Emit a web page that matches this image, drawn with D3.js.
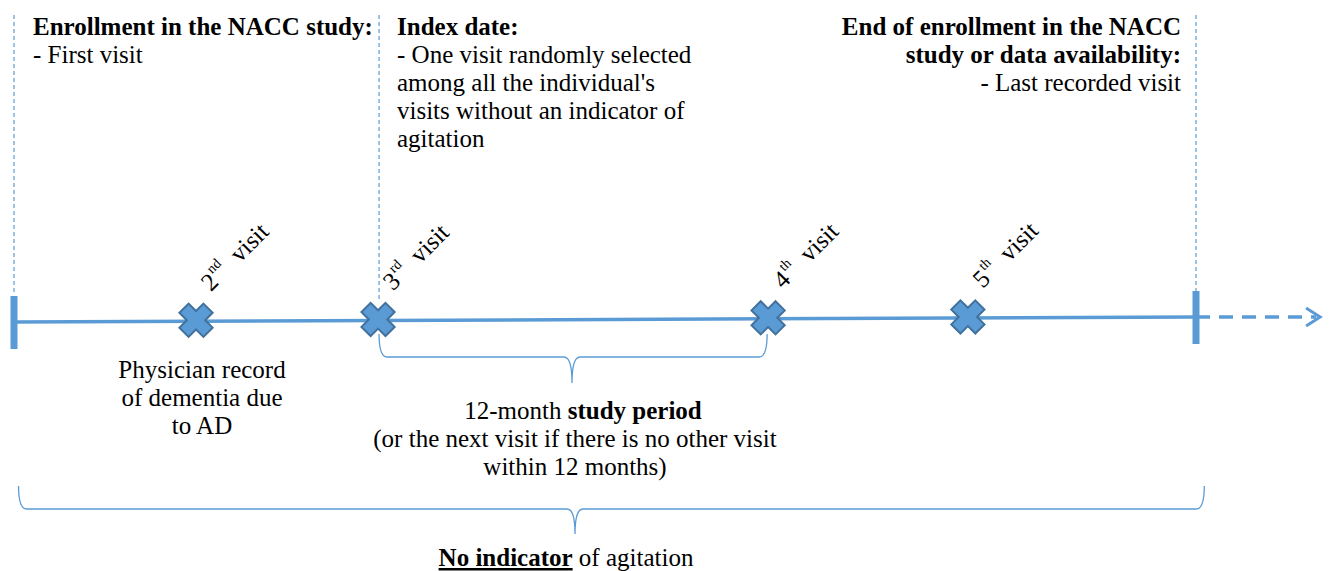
<!DOCTYPE html>
<html><head><meta charset="utf-8">
<script src="https://cdn.jsdelivr.net/npm/d3@7"></script>
<style>
html,body{margin:0;padding:0;background:#fff;}
svg{display:block;}
svg text{font-family:"Liberation Serif","Times New Roman",serif;}
</style></head>
<body>
<svg id="c" width="1340" height="571"></svg>
<script>
// ---- data ----
const visitNums   = ["2", "3", "4", "5"];
const visitSups   = ["nd", "rd", "th", "th"];
const visitTimes  = [15.4, 30.8, 63.8, 80.7];   // position on timeline (arbitrary time units)
const timelineStart = 0, timelineEnd = 100, arrowEnd = 110.5;
const studyPeriod = [30.8, 63.8];
const overall     = [0.3, 100.7];
const markerLines = [0, 30.8, 100];

const topLeftLines  = [{t:"Enrollment in the NACC study:", b:true}, {t:"- First visit", b:false}];
const topMidLines   = [{t:"Index date:", b:true}, {t:"- One visit randomly selected", b:false},
                       {t:"among all the individual's", b:false}, {t:"visits without an indicator of", b:false},
                       {t:"agitation", b:false}];
const topRightLines = [{t:"End of enrollment in the NACC", b:true}, {t:"study or data availability:", b:true},
                       {t:"- Last recorded visit", b:false}];
const physicianLines = ["Physician record", "of dementia due", "to AD"];
const periodLines = ["(or the next visit if there is no other visit", "within 12 months)"];

// ---- drawing ----
const svg = d3.select("#c");
const blue = "#5b9bd5", dark = "#41719c";
const x = d3.scaleLinear().domain([timelineStart, timelineEnd]).range([14, 1196]);
const yLine = d3.scaleLinear().domain([timelineStart, timelineEnd]).range([322, 317]);
const FS = 25, LH = 28;

// dashed vertical guides
svg.selectAll("line.guide").data(markerLines).join("line")
  .attr("x1", d => x(d) + (d === 30.8 ? 1 : 0)).attr("x2", d => x(d) + (d === 30.8 ? 1 : 0))
  .attr("y1", 15).attr("y2", d => d === 30.8 ? 302 : 294)
  .attr("stroke", blue).attr("stroke-width", 1.2).attr("stroke-dasharray", "4,3");

// main line
svg.append("line").attr("x1", x(timelineStart)).attr("y1", yLine(timelineStart))
  .attr("x2", x(timelineEnd)).attr("y2", yLine(timelineEnd))
  .attr("stroke", blue).attr("stroke-width", 3.5);

// dashed continuation + arrow
svg.append("line").attr("x1", x(timelineEnd)).attr("y1", yLine(timelineEnd))
  .attr("x2", x(arrowEnd) - 4).attr("y2", yLine(timelineEnd))
  .attr("stroke", blue).attr("stroke-width", 3.5).attr("stroke-dasharray", "14,9");
svg.append("path")
  .attr("d", `M${x(arrowEnd)-14},${yLine(timelineEnd)-9} L${x(arrowEnd)},${yLine(timelineEnd)} L${x(arrowEnd)-14},${yLine(timelineEnd)+9}`)
  .attr("fill", "none").attr("stroke", blue).attr("stroke-width", 3);

// end bars
[timelineStart, timelineEnd].forEach(t => {
  svg.append("rect").attr("x", x(t) - 3.5).attr("y", yLine(t) - 26).attr("width", 7).attr("height", 53)
    .attr("fill", blue);
});

// X markers
function crossPath(cx, cy, r, w) {
  const pts = [[-w,-r],[w,-r],[w,-w],[r,-w],[r,w],[w,w],[w,r],[-w,r],[-w,w],[-r,w],[-r,-w],[-w,-w]];
  const a = Math.PI / 4;
  return "M" + pts.map(([px,py]) => [cx + px*Math.cos(a) - py*Math.sin(a), cy + px*Math.sin(a) + py*Math.cos(a)].join(",")).join("L") + "Z";
}
svg.selectAll("path.x").data(visitTimes).join("path")
  .attr("d", d => crossPath(x(d), yLine(d) - 1, 17, 6.5))
  .attr("fill", blue).attr("stroke", dark).attr("stroke-width", 2).attr("stroke-linejoin", "miter");

// rotated visit labels
visitTimes.forEach((d, i) => {
  const g = svg.append("g").attr("transform", `translate(${x(d) + 15},${yLine(d) - 29}) rotate(-45)`);
  const t = g.append("text").attr("font-size", FS).attr("fill", "#000");
  t.append("tspan").text(visitNums[i]);
  t.append("tspan").attr("font-size", 14).attr("dy", -12).attr("dx", 1).text(visitSups[i]);
  t.append("tspan").attr("dy", 12).attr("dx", 13).text("visit");
});

// braces
function brace(x0, x1, yTop, yMid, yTip, xm) {
  const r = 8;
  return `M${x0},${yTop} Q${x0},${yMid} ${x0+r},${yMid} L${xm-r},${yMid} Q${xm},${yMid} ${xm},${yTip} ` +
         `Q${xm},${yMid} ${xm+r},${yMid} L${x1-r},${yMid} Q${x1},${yMid} ${x1},${yTop}`;
}
svg.append("path").attr("d", brace(x(studyPeriod[0]) + 1, x(studyPeriod[1]) - 1, 334, 357, 383, 572))
  .attr("fill", "none").attr("stroke", blue).attr("stroke-width", 1.3);
svg.append("path").attr("d", brace(x(overall[0]) + 1, x(overall[1]), 486, 509, 534, 575))
  .attr("fill", "none").attr("stroke", blue).attr("stroke-width", 1.3);

// top texts
function block(lines, xPos, anchor, y0) {
  const t = svg.append("text").attr("font-size", FS).attr("text-anchor", anchor).attr("fill", "#000");
  lines.forEach((l, i) => t.append("tspan").attr("x", xPos).attr("y", y0 + i * LH)
    .attr("font-weight", l.b ? "bold" : "normal").text(l.t));
}
block(topLeftLines, 33, "start", 35);
block(topMidLines, 397, "start", 35);
block(topRightLines, 1181, "end", 35);

// physician text
const pt = svg.append("text").attr("font-size", FS).attr("text-anchor", "middle");
physicianLines.forEach((l, i) => pt.append("tspan").attr("x", 202).attr("y", 378 + i * LH).text(l));

// study period text
const sp = svg.append("text").attr("font-size", FS).attr("text-anchor", "middle").attr("x", 583).attr("y", 419);
sp.append("tspan").text("12-month ");
sp.append("tspan").attr("font-weight", "bold").text("study period");
const sp2 = svg.append("text").attr("font-size", FS).attr("text-anchor", "middle");
periodLines.forEach((l, i) => sp2.append("tspan").attr("x", 575).attr("y", 447 + i * LH).text(l));

// bottom label
const nb = svg.append("text").attr("font-size", FS).attr("text-anchor", "middle").attr("x", 566).attr("y", 566);
nb.append("tspan").attr("font-weight", "bold").attr("text-decoration", "underline").text("No indicator");
nb.append("tspan").text(" of agitation");
</script>
</body></html>
